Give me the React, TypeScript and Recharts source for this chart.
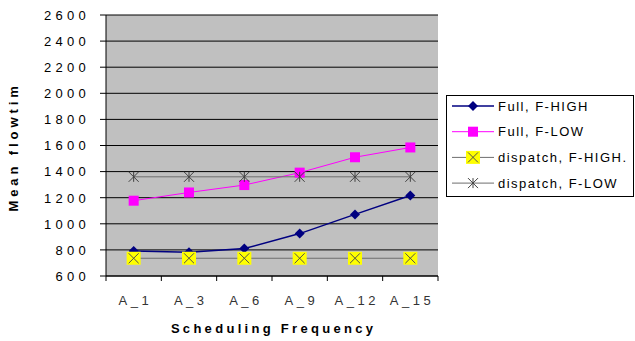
import React from 'react';
import { LineChart, Line, XAxis, YAxis, CartesianGrid, Legend } from 'recharts';

// Category labels along the x axis
const categories = ['A_1', 'A_3', 'A_6', 'A_9', 'A_12', 'A_15'];

// Mean flowtime per scheduling frequency, one array per series
const fullHigh = [792, 782, 810, 925, 1072, 1217];
const fullLow = [1177, 1240, 1297, 1392, 1510, 1585];
const dispatchHigh = [736, 736, 736, 736, 736, 736];
const dispatchLow = [1360, 1360, 1360, 1360, 1360, 1360];

const yTicks = [600, 800, 1000, 1200, 1400, 1600, 1800, 2000, 2200, 2400, 2600];

type MarkerKind = 'diamond' | 'square' | 'xbox' | 'star';

interface SeriesDef {
  key: string;
  name: string;
  values: number[];
  color: string;
  width: number;
  marker: MarkerKind;
}

const series: SeriesDef[] = [
  { key: 'fullHigh', name: 'Full, F-HIGH', values: fullHigh, color: '#000080', width: 1.5, marker: 'diamond' },
  { key: 'fullLow', name: 'Full, F-LOW', values: fullLow, color: '#FF00FF', width: 1, marker: 'square' },
  { key: 'dispatchHigh', name: 'dispatch, F-HIGH.', values: dispatchHigh, color: '#6E6E6E', width: 1, marker: 'xbox' },
  { key: 'dispatchLow', name: 'dispatch, F-LOW', values: dispatchLow, color: '#6E6E6E', width: 1, marker: 'star' },
];

const data = categories.map((cat, i) => {
  const row: Record<string, string | number> = { cat };
  series.forEach((s) => {
    row[s.key] = s.values[i];
  });
  return row;
});

const FONT = '"Liberation Sans", Arial, sans-serif';

const W = 635;
const H = 341;
const PLOT_LEFT = 106;
const PLOT_RIGHT = 438;
const PLOT_TOP = 15;
const PLOT_BOTTOM = 276;
const HALF_STEP = (PLOT_RIGHT - PLOT_LEFT) / categories.length / 2;

function Marker({ kind, cx, cy }: { kind: MarkerKind; cx: number; cy: number }) {
  if (kind === 'diamond') {
    return (
      <polygon
        points={`${cx},${cy - 5} ${cx + 5},${cy} ${cx},${cy + 5} ${cx - 5},${cy}`}
        fill="#000080"
      />
    );
  }
  if (kind === 'square') {
    return <rect x={cx - 5} y={cy - 5} width={10} height={10} fill="#FF00FF" />;
  }
  if (kind === 'xbox') {
    return (
      <g>
        <rect x={cx - 7} y={cy - 6.5} width={14} height={13} fill="#FFFF00" />
        <path
          d={`M${cx - 5} ${cy - 5}L${cx + 5} ${cy + 5}M${cx + 5} ${cy - 5}L${cx - 5} ${cy + 5}`}
          stroke="#505050"
          strokeWidth={1}
        />
      </g>
    );
  }
  return (
    <path
      d={`M${cx - 5} ${cy - 5}L${cx + 5} ${cy + 5}M${cx + 5} ${cy - 5}L${cx - 5} ${cy + 5}M${cx} ${cy - 5}L${cx} ${cy + 5}`}
      stroke="#404040"
      strokeWidth={1}
    />
  );
}

const makeDot = (kind: MarkerKind) => (props: any) => {
  const { cx, cy, index } = props;
  if (cx == null || cy == null) return <g key={`e-${kind}-${index}`} />;
  return (
    <g key={`m-${kind}-${index}`}>
      <Marker kind={kind} cx={cx} cy={cy} />
    </g>
  );
};

const XTick = (props: any) => {
  const { x, y, payload, index } = props;
  const isLast = index === categories.length - 1;
  return (
    <g>
      <line x1={x - HALF_STEP} y1={y} x2={x - HALF_STEP} y2={y + 5} stroke="#000" />
      {isLast && <line x1={x + HALF_STEP} y1={y} x2={x + HALF_STEP} y2={y + 5} stroke="#000" />}
      <text
        x={x + 1.7}
        y={y + 29}
        textAnchor="middle"
        fill="#333"
        fontSize={13}
        fontFamily={FONT}
        style={{ letterSpacing: '3.5px' }}
      >
        {payload.value}
      </text>
    </g>
  );
};

const YTick = (props: any) => {
  const { x, y, payload } = props;
  return (
    <text
      x={x}
      y={y + 4.8}
      textAnchor="end"
      fill="#000"
      fontSize={13}
      fontFamily={FONT}
      style={{ letterSpacing: '4.3px' }}
    >
      {payload.value}
    </text>
  );
};

// Axis title is clipped at its top end, so the last letter is cut off
const YTitle = () => (
  <g>
    <defs>
      <clipPath id="y-title-clip" clipPathUnits="userSpaceOnUse">
        <rect x={0} y={82} width={40} height={200} />
      </clipPath>
    </defs>
    <g clipPath="url(#y-title-clip)">
      <text
        transform="translate(18,211.5) rotate(-90)"
        textAnchor="start"
        fill="#000"
        fontSize={13}
        fontWeight="bold"
        fontFamily={FONT}
        style={{ letterSpacing: '3.9px' }}
      >
        Mean flowtime
      </text>
    </g>
  </g>
);

const XTitle = () => (
  <text
    x={(PLOT_LEFT + PLOT_RIGHT) / 2 + 1.6}
    y={333}
    textAnchor="middle"
    fill="#000"
    fontSize={13}
    fontWeight="bold"
    fontFamily={FONT}
    style={{ letterSpacing: '3.3px' }}
  >
    Scheduling Frequency
  </text>
);

const LegendBox = () => {
  const rowH = 25.7;
  return (
    <svg width={189} height={102} style={{ display: 'block' }}>
      <rect x={0.5} y={0.5} width={187} height={101} fill="#fff" stroke="#000" />
      {series.map((s, i) => {
        const cy = 11 + i * rowH;
        return (
          <g key={s.key}>
            <line x1={6} y1={cy} x2={48} y2={cy} stroke={s.color} strokeWidth={s.width} />
            <Marker kind={s.marker} cx={27} cy={cy} />
            <text
              x={52}
              y={cy + 4.7}
              fill="#000"
              fontSize={13}
              fontFamily={FONT}
              style={{ letterSpacing: '1.5px' }}
            >
              {s.name}
            </text>
          </g>
        );
      })}
    </svg>
  );
};

export default function App() {
  return (
    <div style={{ position: 'absolute', left: 0, top: 0, width: W, height: H, background: '#fff' }}>
      <LineChart
        width={W}
        height={H}
        data={data}
        margin={{ top: PLOT_TOP, right: W - PLOT_RIGHT, bottom: 0, left: 0 }}
      >
        <CartesianGrid
          vertical={false}
          horizontal={true}
          stroke="#000"
          strokeWidth={1}
          fill="#C0C0C0"
          fillOpacity={1}
        />
        <XAxis
          dataKey="cat"
          type="category"
          height={H - PLOT_BOTTOM}
          padding={{ left: HALF_STEP, right: HALF_STEP }}
          axisLine={{ stroke: '#000' }}
          tickLine={false}
          tickSize={0}
          tickMargin={0}
          interval={0}
          tick={<XTick />}
          label={<XTitle />}
        />
        <YAxis
          type="number"
          width={PLOT_LEFT}
          domain={[600, 2600]}
          ticks={yTicks}
          interval={0}
          axisLine={{ stroke: '#000' }}
          tickLine={{ stroke: '#000' }}
          tickSize={6}
          tickMargin={10}
          tick={<YTick />}
          label={<YTitle />}
        />
        <Legend
          layout="vertical"
          align="center"
          verticalAlign="middle"
          content={<LegendBox />}
          wrapperStyle={{ left: 446, top: 95, width: 189, height: 102 }}
        />
        {series.map((s) => (
          <Line
            key={s.key}
            dataKey={s.key}
            name={s.name}
            type="linear"
            stroke={s.color}
            strokeWidth={s.width}
            dot={makeDot(s.marker)}
            activeDot={false}
            isAnimationActive={false}
          />
        ))}
      </LineChart>
    </div>
  );
}
